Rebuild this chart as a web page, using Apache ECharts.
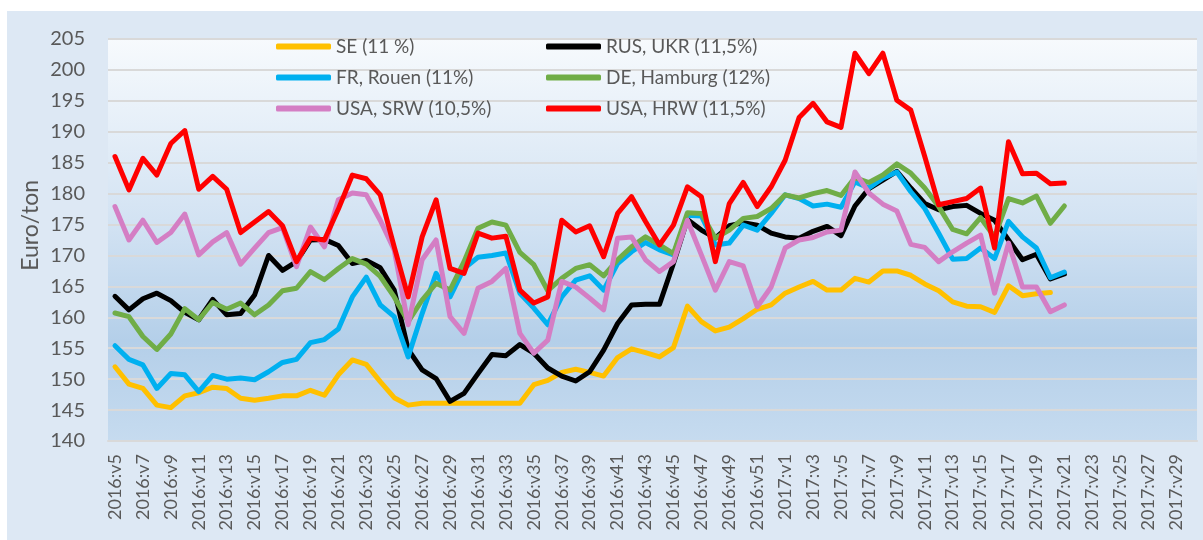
<!DOCTYPE html>
<html>
<head>
<meta charset="utf-8">
<script src="https://cdn.jsdelivr.net/npm/echarts@6/dist/echarts.min.js"></script>
<style>
  body { margin: 0; background: #ffffff; }
  #panel { position: absolute; left: 7px; top: 11px; width: 1196px; height: 529px; background: #dde8f4; }
  #chart { position: absolute; left: 0; top: 0; width: 1203px; height: 540px; }
</style>
</head>
<body>
<div id="panel"></div>
<div id="chart"></div>
<script>
// weeks 2016:v5 .. 2016:v52, 2017:v1 .. 2017:v30
const categories = [];
for (let w = 5; w <= 52; w++) categories.push('2016:v' + w);
for (let w = 1; w <= 30; w++) categories.push('2017:v' + w);

const seValues = [
  152.0, 149.2, 148.5, 145.8, 145.4, 147.3, 147.8, 148.7, 148.5, 146.9,
  146.6, 146.9, 147.3, 147.3, 148.2, 147.4, 150.7, 153.1, 152.4, 149.6,
  147.0, 145.8, 146.1, 146.1, 146.1, 146.1, 146.1, 146.1, 146.1, 146.1,
  149.1, 149.8, 151.1, 151.6, 151.1, 150.5, 153.5, 154.9, 154.3, 153.6,
  155.1, 161.8, 159.3, 157.8, 158.4, 159.8, 161.3, 162.0, 163.9, 164.9,
  165.8, 164.4, 164.4, 166.3, 165.7, 167.5, 167.5, 166.8, 165.4, 164.3,
  162.5, 161.8, 161.7, 160.8, 165.1, 163.5, 163.8, 164.0
];
const rusValues = [
  163.4, 161.2, 163.0, 163.9, 162.7, 160.8, 159.6, 162.9, 160.4, 160.6,
  163.6, 170.0, 167.6, 169.0, 172.5, 172.6, 171.6, 168.7, 169.2, 168.0,
  164.4, 154.8, 151.5, 150.1, 146.4, 147.7, 150.9, 154.0, 153.8, 155.6,
  154.2, 151.8, 150.5, 149.7, 151.2, 154.7, 159.0, 162.0, 162.1, 162.1,
  168.7, 175.8, 174.1, 172.8, 174.8, 175.3, 174.9, 173.6, 173.0, 172.8,
  173.9, 174.7, 173.2, 178.0, 180.8, 182.2, 183.6, 180.9, 178.4, 177.4,
  177.9, 178.1, 176.8, 175.7, 172.5, 169.3, 170.2, 166.2, 167.0
];
const frValues = [
  155.4, 153.2, 152.3, 148.5, 150.9, 150.7, 148.0, 150.6, 150.0, 150.2,
  149.9, 151.2, 152.7, 153.2, 155.9, 156.4, 158.1, 163.3, 166.5, 162.0,
  160.1, 153.6, 160.6, 167.1, 163.3, 167.9, 169.7, 170.0, 170.4, 163.9,
  161.5, 158.8, 163.3, 166.0, 166.7, 164.4, 168.7, 170.6, 172.1, 170.9,
  170.1, 176.5, 176.4, 171.7, 172.0, 174.9, 174.1, 176.8, 179.8, 179.2,
  178.0, 178.3, 177.8, 181.9, 180.9, 182.5, 183.5, 180.3, 177.6, 173.6,
  169.4, 169.5, 171.2, 169.5, 175.5, 173.0, 171.2, 166.4, 167.3
];
const deValues = [
  160.7, 160.1, 156.9, 154.8, 157.3, 161.4, 159.6, 162.4, 161.3, 162.3,
  160.4, 162.0, 164.3, 164.7, 167.4, 166.1, 167.9, 169.5, 168.6, 166.6,
  163.3, 159.3, 162.8, 165.5, 164.4, 169.0, 174.4, 175.4, 174.9, 170.5,
  168.5, 164.3, 166.3, 167.9, 168.5, 166.7, 169.3, 171.4, 173.0, 171.7,
  170.3, 176.9, 176.8, 172.8, 174.1, 176.0, 176.3, 177.6, 179.8, 179.3,
  180.0, 180.5, 179.7, 182.6, 181.8, 183.0, 184.8, 183.3, 180.9, 177.9,
  174.2, 173.5, 176.1, 173.0, 179.2, 178.5, 179.6, 175.2, 178.0
];
const srwValues = [
  177.9, 172.5, 175.7, 172.1, 173.7, 176.7, 170.1, 172.2, 173.7, 168.6,
  171.2, 173.7, 174.5, 168.2, 174.6, 171.4, 179.0, 180.1, 179.8, 175.7,
  170.9, 158.8, 169.3, 172.5, 160.1, 157.4, 164.7, 165.8, 167.9, 157.4,
  154.2, 156.3, 165.8, 164.9, 163.1, 161.2, 172.8, 173.0, 169.3, 167.4,
  169.0, 175.7, 170.1, 164.4, 169.0, 168.3, 161.7, 164.9, 171.2, 172.5,
  172.9, 173.8, 174.1, 183.5, 180.1, 178.3, 177.2, 171.8, 171.3, 169.0,
  170.6, 172.0, 173.3, 163.9, 172.0, 164.9, 164.9, 160.9, 162.0
];
const hrwValues = [
  186.0, 180.6, 185.7, 183.0, 188.1, 190.2, 180.7, 182.8, 180.7, 173.7,
  175.4, 177.1, 174.8, 169.0, 172.8, 172.5, 177.5, 183.0, 182.4, 179.8,
  171.4, 163.3, 173.0, 179.0, 167.9, 167.1, 173.6, 172.8, 173.1, 164.4,
  162.3, 163.3, 175.7, 173.8, 174.8, 169.8, 176.8, 179.5, 175.5, 171.7,
  174.9, 181.1, 179.5, 169.0, 178.4, 181.8, 177.9, 181.1, 185.4, 192.3,
  194.6, 191.6, 190.7, 202.7, 199.4, 202.7, 195.1, 193.5, 186.0, 178.2,
  178.7, 179.2, 180.9, 171.2, 188.4, 183.2, 183.3, 181.6, 181.7
];

const names = ['SE (11 %)', 'RUS, UKR (11,5%)', 'FR, Rouen (11%)', 'DE, Hamburg (12%)', 'USA, SRW (10,5%)', 'USA, HRW (11,5%)'];
const colors = ['#ffc000', '#000000', '#00b0f0', '#70ad47', '#d47ec4', '#ff0000'];
const values = [seValues, rusValues, frValues, deValues, srwValues, hrwValues];

const textGray = '#595959';
const fontName = 'Lato, "Open Sans", sans-serif';

const legendBase = {
  orient: 'vertical',
  top: 36,
  padding: 0,
  itemGap: 10,
  itemWidth: 55,
  itemHeight: 6,
  icon: 'roundRect',
  selectedMode: false,
  textStyle: { color: textGray, fontSize: 19, lineHeight: 21, fontFamily: fontName }
};

const option = {
  animation: false,
  color: colors,
  textStyle: { fontFamily: fontName },
  grid: {
    left: 108, right: 6, top: 39, bottom: 99,
    show: true,
    borderWidth: 0,
    backgroundColor: new echarts.graphic.LinearGradient(0, 0, 0, 1, [
      { offset: 0, color: '#f7fafd' },
      { offset: 0.45, color: '#d3e3f3' },
      { offset: 0.75, color: '#b4cfe9' },
      { offset: 1, color: '#c6dbef' }
    ])
  },
  legend: [
    Object.assign({}, legendBase, { left: 276, data: [names[0], names[2], names[4]] }),
    Object.assign({}, legendBase, { left: 546, data: [names[1], names[3], names[5]] })
  ],
  graphic: [{
    type: 'text',
    left: 19,
    top: 180,
    rotation: Math.PI / 2,
    style: { text: 'Euro/ton', fill: textGray, font: '23px ' + fontName }
  }],
  xAxis: {
    type: 'category',
    data: categories,
    boundaryGap: true,
    axisTick: { show: false },
    axisLine: { lineStyle: { color: '#d9d9d9', width: 2 } },
    axisLabel: { interval: 1, rotate: 90, margin: 13, color: textGray, fontSize: 18, fontFamily: fontName }
  },
  yAxis: {
    type: 'value',
    min: 140,
    max: 205,
    interval: 5,
    axisLine: { show: false },
    axisTick: { show: false },
    axisLabel: { margin: 23, color: textGray, fontSize: 20, fontFamily: fontName },
    splitLine: { lineStyle: { color: '#d9d9d9', width: 2 } }
  },
  series: names.map((n, k) => ({
    name: n,
    type: 'line',
    data: values[k],
    showSymbol: false,
    symbol: 'none',
    connectNulls: false,
    lineStyle: { width: 5, color: colors[k], cap: 'round', join: 'round' },
    itemStyle: { color: colors[k] }
  }))
};

const myChart = echarts.init(document.getElementById('chart'));
myChart.setOption(option);
</script>
</body>
</html>
